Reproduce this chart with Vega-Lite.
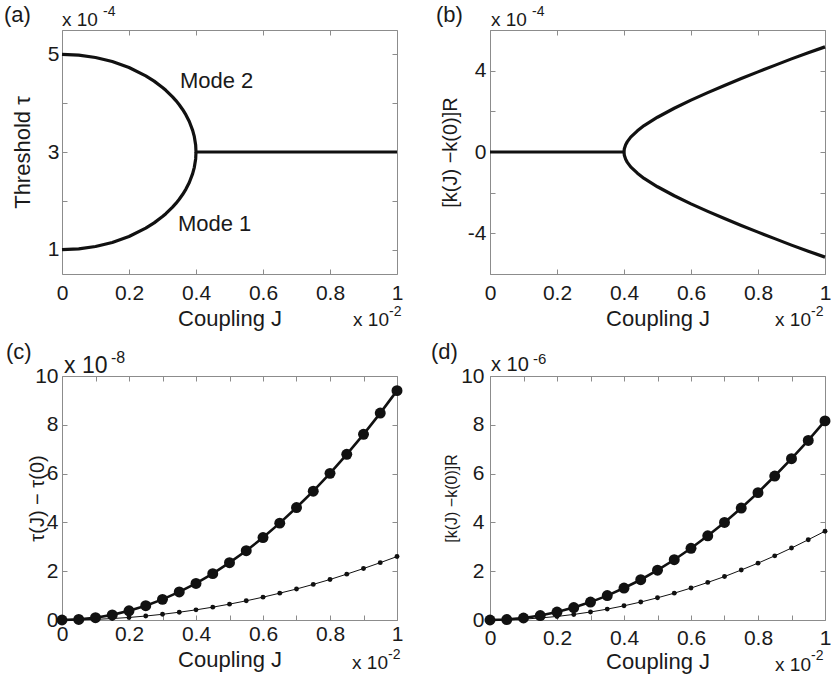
{
  "$schema": "https://vega.github.io/schema/vega-lite/v6.json",
  "background": "white",
  "padding": {"left": 3, "top": 3, "right": 5, "bottom": 5},
  "config": {
    "font": "Liberation Sans",
    "view": {"stroke": "#8c8c8c", "strokeWidth": 1},
    "axis": {"domain": false, "grid": false, "tickColor": "#8c8c8c", "tickSize": -5, "tickWidth": 1, "labelFont": "Liberation Sans", "labelFontSize": 21, "labelColor": "#1a1a1a", "labelFlush": false, "labelOverlap": false, "titleFont": "Liberation Sans", "titleFontSize": 22, "titleFontWeight": "normal", "titleColor": "#1a1a1a"},
    "text": {"font": "Liberation Sans", "color": "#1a1a1a"}
  },
  "datasets": {
    "a": [
      {"J": 0, "v": 5, "s": "u"}, {"J": 0.05, "v": 4.984, "s": "u"}, {"J": 0.1, "v": 4.937, "s": "u"}, {"J": 0.15, "v": 4.854, "s": "u"}, {"J": 0.2, "v": 4.732, "s": "u"}, {"J": 0.25, "v": 4.561, "s": "u"}, {"J": 0.275, "v": 4.452, "s": "u"}, {"J": 0.3, "v": 4.323, "s": "u"}, {"J": 0.31, "v": 4.264, "s": "u"}, {"J": 0.33, "v": 4.13, "s": "u"}, {"J": 0.34, "v": 4.054, "s": "u"}, {"J": 0.35, "v": 3.968, "s": "u"}, {"J": 0.36, "v": 3.872, "s": "u"}, {"J": 0.37, "v": 3.76, "s": "u"}, {"J": 0.38, "v": 3.625, "s": "u"}, {"J": 0.39, "v": 3.444, "s": "u"}, {"J": 0.395, "v": 3.315, "s": "u"}, {"J": 0.399, "v": 3.141, "s": "u"}, {"J": 0.4, "v": 3, "s": "u"}, {"J": 1, "v": 3, "s": "u"},
      {"J": 0, "v": 1, "s": "l"}, {"J": 0.05, "v": 1.016, "s": "l"}, {"J": 0.1, "v": 1.063, "s": "l"}, {"J": 0.15, "v": 1.146, "s": "l"}, {"J": 0.2, "v": 1.268, "s": "l"}, {"J": 0.25, "v": 1.439, "s": "l"}, {"J": 0.275, "v": 1.548, "s": "l"}, {"J": 0.3, "v": 1.677, "s": "l"}, {"J": 0.31, "v": 1.736, "s": "l"}, {"J": 0.33, "v": 1.87, "s": "l"}, {"J": 0.34, "v": 1.946, "s": "l"}, {"J": 0.35, "v": 2.032, "s": "l"}, {"J": 0.36, "v": 2.128, "s": "l"}, {"J": 0.37, "v": 2.24, "s": "l"}, {"J": 0.38, "v": 2.375, "s": "l"}, {"J": 0.39, "v": 2.556, "s": "l"}, {"J": 0.395, "v": 2.685, "s": "l"}, {"J": 0.399, "v": 2.859, "s": "l"}, {"J": 0.4, "v": 3, "s": "l"}
    ],
    "b": [
      {"J": 0, "v": 0, "s": "f"}, {"J": 0.4, "v": 0, "s": "f"},
      {"J": 0.4, "v": 0, "s": "u"}, {"J": 0.401, "v": 0.16, "s": "u"}, {"J": 0.405, "v": 0.36, "s": "u"}, {"J": 0.41, "v": 0.51, "s": "u"}, {"J": 0.42, "v": 0.73, "s": "u"}, {"J": 0.44, "v": 1.04, "s": "u"}, {"J": 0.46, "v": 1.3, "s": "u"}, {"J": 0.5, "v": 1.71, "s": "u"}, {"J": 0.55, "v": 2.15, "s": "u"}, {"J": 0.6, "v": 2.55, "s": "u"}, {"J": 0.65, "v": 2.92, "s": "u"}, {"J": 0.7, "v": 3.27, "s": "u"}, {"J": 0.75, "v": 3.61, "s": "u"}, {"J": 0.8, "v": 3.94, "s": "u"}, {"J": 0.85, "v": 4.26, "s": "u"}, {"J": 0.9, "v": 4.58, "s": "u"}, {"J": 0.95, "v": 4.88, "s": "u"}, {"J": 1, "v": 5.17, "s": "u"},
      {"J": 0.4, "v": 0, "s": "d"}, {"J": 0.401, "v": -0.16, "s": "d"}, {"J": 0.405, "v": -0.36, "s": "d"}, {"J": 0.41, "v": -0.51, "s": "d"}, {"J": 0.42, "v": -0.73, "s": "d"}, {"J": 0.44, "v": -1.04, "s": "d"}, {"J": 0.46, "v": -1.3, "s": "d"}, {"J": 0.5, "v": -1.71, "s": "d"}, {"J": 0.55, "v": -2.15, "s": "d"}, {"J": 0.6, "v": -2.55, "s": "d"}, {"J": 0.65, "v": -2.92, "s": "d"}, {"J": 0.7, "v": -3.27, "s": "d"}, {"J": 0.75, "v": -3.61, "s": "d"}, {"J": 0.8, "v": -3.94, "s": "d"}, {"J": 0.85, "v": -4.26, "s": "d"}, {"J": 0.9, "v": -4.58, "s": "d"}, {"J": 0.95, "v": -4.88, "s": "d"}, {"J": 1, "v": -5.17, "s": "d"}
    ],
    "c": [
      {"J": 0, "v": 0, "s": "small"}, {"J": 0.05, "v": 0.0065, "s": "small"}, {"J": 0.1, "v": 0.026, "s": "small"}, {"J": 0.15, "v": 0.059, "s": "small"}, {"J": 0.2, "v": 0.104, "s": "small"}, {"J": 0.25, "v": 0.163, "s": "small"}, {"J": 0.3, "v": 0.234, "s": "small"}, {"J": 0.35, "v": 0.319, "s": "small"}, {"J": 0.4, "v": 0.416, "s": "small"}, {"J": 0.45, "v": 0.527, "s": "small"}, {"J": 0.5, "v": 0.65, "s": "small"}, {"J": 0.55, "v": 0.787, "s": "small"}, {"J": 0.6, "v": 0.936, "s": "small"}, {"J": 0.65, "v": 1.1, "s": "small"}, {"J": 0.7, "v": 1.27, "s": "small"}, {"J": 0.75, "v": 1.46, "s": "small"}, {"J": 0.8, "v": 1.66, "s": "small"}, {"J": 0.85, "v": 1.88, "s": "small"}, {"J": 0.9, "v": 2.11, "s": "small"}, {"J": 0.95, "v": 2.35, "s": "small"}, {"J": 1, "v": 2.6, "s": "small"},
      {"J": 0, "v": 0, "s": "big"}, {"J": 0.05, "v": 0.024, "s": "big"}, {"J": 0.1, "v": 0.094, "s": "big"}, {"J": 0.15, "v": 0.21, "s": "big"}, {"J": 0.2, "v": 0.376, "s": "big"}, {"J": 0.25, "v": 0.587, "s": "big"}, {"J": 0.3, "v": 0.846, "s": "big"}, {"J": 0.35, "v": 1.15, "s": "big"}, {"J": 0.4, "v": 1.5, "s": "big"}, {"J": 0.45, "v": 1.9, "s": "big"}, {"J": 0.5, "v": 2.35, "s": "big"}, {"J": 0.55, "v": 2.84, "s": "big"}, {"J": 0.6, "v": 3.38, "s": "big"}, {"J": 0.65, "v": 3.97, "s": "big"}, {"J": 0.7, "v": 4.61, "s": "big"}, {"J": 0.75, "v": 5.28, "s": "big"}, {"J": 0.8, "v": 6.01, "s": "big"}, {"J": 0.85, "v": 6.79, "s": "big"}, {"J": 0.9, "v": 7.61, "s": "big"}, {"J": 0.95, "v": 8.48, "s": "big"}, {"J": 1, "v": 9.4, "s": "big"}
    ],
    "d": [
      {"J": 0, "v": 0, "s": "small"}, {"J": 0.05, "v": 0.009, "s": "small"}, {"J": 0.1, "v": 0.036, "s": "small"}, {"J": 0.15, "v": 0.082, "s": "small"}, {"J": 0.2, "v": 0.146, "s": "small"}, {"J": 0.25, "v": 0.228, "s": "small"}, {"J": 0.3, "v": 0.328, "s": "small"}, {"J": 0.35, "v": 0.446, "s": "small"}, {"J": 0.4, "v": 0.582, "s": "small"}, {"J": 0.45, "v": 0.737, "s": "small"}, {"J": 0.5, "v": 0.91, "s": "small"}, {"J": 0.55, "v": 1.1, "s": "small"}, {"J": 0.6, "v": 1.31, "s": "small"}, {"J": 0.65, "v": 1.54, "s": "small"}, {"J": 0.7, "v": 1.78, "s": "small"}, {"J": 0.75, "v": 2.05, "s": "small"}, {"J": 0.8, "v": 2.33, "s": "small"}, {"J": 0.85, "v": 2.63, "s": "small"}, {"J": 0.9, "v": 2.95, "s": "small"}, {"J": 0.95, "v": 3.29, "s": "small"}, {"J": 1, "v": 3.64, "s": "small"},
      {"J": 0, "v": 0, "s": "big"}, {"J": 0.05, "v": 0.02, "s": "big"}, {"J": 0.1, "v": 0.082, "s": "big"}, {"J": 0.15, "v": 0.184, "s": "big"}, {"J": 0.2, "v": 0.326, "s": "big"}, {"J": 0.25, "v": 0.51, "s": "big"}, {"J": 0.3, "v": 0.734, "s": "big"}, {"J": 0.35, "v": 1.0, "s": "big"}, {"J": 0.4, "v": 1.31, "s": "big"}, {"J": 0.45, "v": 1.65, "s": "big"}, {"J": 0.5, "v": 2.04, "s": "big"}, {"J": 0.55, "v": 2.47, "s": "big"}, {"J": 0.6, "v": 2.94, "s": "big"}, {"J": 0.65, "v": 3.45, "s": "big"}, {"J": 0.7, "v": 4.0, "s": "big"}, {"J": 0.75, "v": 4.59, "s": "big"}, {"J": 0.8, "v": 5.22, "s": "big"}, {"J": 0.85, "v": 5.9, "s": "big"}, {"J": 0.9, "v": 6.61, "s": "big"}, {"J": 0.95, "v": 7.36, "s": "big"}, {"J": 1, "v": 8.16, "s": "big"}
    ]
  },
  "columns": 2,
  "spacing": {"row": 102, "column": 93},
  "bounds": "flush",
  "concat": [
    {
      "width": 335, "height": 244,
      "layer": [
        {"data": {"name": "a"}, "mark": {"type": "line", "color": "#111111", "strokeWidth": 3.2, "strokeJoin": "round"},
          "encoding": {
            "x": {"field": "J", "type": "quantitative", "scale": {"domain": [0, 1], "nice": false, "zero": false}, "axis": {"values": [0, 0.2, 0.4, 0.6, 0.8, 1], "labelExpr": "datum.value == 0 ? '0' : datum.value == 1 ? '1' : format(datum.value, '.1f')", "title": "Coupling J", "labelPadding": 13, "titlePadding": 5}},
            "y": {"field": "v", "type": "quantitative", "scale": {"domain": [0.5, 5.5], "nice": false, "zero": false}, "axis": {"values": [1, 2, 3, 4, 5], "labelExpr": "datum.value == 1 || datum.value == 3 || datum.value == 5 ? datum.label : ''", "title": "Threshold τ", "labelPadding": 8, "titlePadding": 13}},
            "detail": {"field": "s", "type": "nominal"}
          }},
        {"data": {"name": "a"}, "mark": {"type": "point", "opacity": 0},
          "encoding": {
            "x": {"field": "J", "type": "quantitative", "scale": {"domain": [0, 1], "nice": false, "zero": false}, "axis": {"orient": "top", "values": [0, 0.2, 0.4, 0.6, 0.8, 1], "labels": false, "title": null}},
            "y": {"field": "v", "type": "quantitative", "scale": {"domain": [0.5, 5.5], "nice": false, "zero": false}, "axis": {"orient": "right", "values": [1, 2, 3, 4, 5], "labels": false, "title": null}}
          }},
        {"data": {"values": [{}]}, "mark": {"type": "text", "text": "(a)", "align": "left", "baseline": "alphabetic", "fontSize": 22, "dx": -58, "dy": -8},
          "encoding": {"x": {"datum": 0, "type": "quantitative", "scale": {"domain": [0, 1], "nice": false, "zero": false}, "axis": null}, "y": {"datum": 5.5, "type": "quantitative", "scale": {"domain": [0.5, 5.5], "nice": false, "zero": false}, "axis": null}}},
        {"data": {"values": [{}]}, "mark": {"type": "text", "text": "x 10", "align": "left", "baseline": "alphabetic", "fontSize": 19, "dx": 0, "dy": -4},
          "encoding": {"x": {"datum": 0, "type": "quantitative", "scale": {"domain": [0, 1], "nice": false, "zero": false}, "axis": null}, "y": {"datum": 5.5, "type": "quantitative", "scale": {"domain": [0.5, 5.5], "nice": false, "zero": false}, "axis": null}}},
        {"data": {"values": [{}]}, "mark": {"type": "text", "text": "-4", "align": "left", "baseline": "alphabetic", "fontSize": 14, "dx": 41, "dy": -14},
          "encoding": {"x": {"datum": 0, "type": "quantitative", "scale": {"domain": [0, 1], "nice": false, "zero": false}, "axis": null}, "y": {"datum": 5.5, "type": "quantitative", "scale": {"domain": [0.5, 5.5], "nice": false, "zero": false}, "axis": null}}},
        {"data": {"values": [{}]}, "mark": {"type": "text", "text": "x 10", "align": "right", "baseline": "alphabetic", "fontSize": 19, "dx": -8, "dy": 52},
          "encoding": {"x": {"datum": 1, "type": "quantitative", "scale": {"domain": [0, 1], "nice": false, "zero": false}, "axis": null}, "y": {"datum": 0.5, "type": "quantitative", "scale": {"domain": [0.5, 5.5], "nice": false, "zero": false}, "axis": null}}},
        {"data": {"values": [{}]}, "mark": {"type": "text", "text": "-2", "align": "left", "baseline": "alphabetic", "fontSize": 14, "dx": -8, "dy": 42},
          "encoding": {"x": {"datum": 1, "type": "quantitative", "scale": {"domain": [0, 1], "nice": false, "zero": false}, "axis": null}, "y": {"datum": 0.5, "type": "quantitative", "scale": {"domain": [0.5, 5.5], "nice": false, "zero": false}, "axis": null}}},
        {"data": {"values": [{}]}, "mark": {"type": "text", "text": "Mode 2", "align": "left", "baseline": "alphabetic", "fontSize": 22},
          "encoding": {"x": {"datum": 0.352, "type": "quantitative", "scale": {"domain": [0, 1], "nice": false, "zero": false}, "axis": null}, "y": {"datum": 4.31, "type": "quantitative", "scale": {"domain": [0.5, 5.5], "nice": false, "zero": false}, "axis": null}}},
        {"data": {"values": [{}]}, "mark": {"type": "text", "text": "Mode 1", "align": "left", "baseline": "alphabetic", "fontSize": 22},
          "encoding": {"x": {"datum": 0.346, "type": "quantitative", "scale": {"domain": [0, 1], "nice": false, "zero": false}, "axis": null}, "y": {"datum": 1.38, "type": "quantitative", "scale": {"domain": [0.5, 5.5], "nice": false, "zero": false}, "axis": null}}}
      ],
      "resolve": {"axis": {"x": "independent", "y": "independent"}}
    },
    {
      "width": 335, "height": 244,
      "layer": [
        {"data": {"name": "b"}, "mark": {"type": "line", "color": "#111111", "strokeWidth": 3.2, "strokeJoin": "round"},
          "encoding": {
            "x": {"field": "J", "type": "quantitative", "scale": {"domain": [0, 1], "nice": false, "zero": false}, "axis": {"values": [0, 0.2, 0.4, 0.6, 0.8, 1], "labelExpr": "datum.value == 0 ? '0' : datum.value == 1 ? '1' : format(datum.value, '.1f')", "title": "Coupling J", "labelPadding": 13, "titlePadding": 5}},
            "y": {"field": "v", "type": "quantitative", "scale": {"domain": [-6, 6], "nice": false, "zero": false}, "axis": {"values": [-6, -4, -2, 0, 2, 4, 6], "labelExpr": "datum.value == -4 ? '-4' : datum.value == 0 ? '0' : datum.value == 4 ? '4' : ''", "title": "[k(J) −k(0)]R", "titleFontSize": 20, "labelPadding": 9, "titlePadding": 7}},
            "detail": {"field": "s", "type": "nominal"}
          }},
        {"data": {"name": "b"}, "mark": {"type": "point", "opacity": 0},
          "encoding": {
            "x": {"field": "J", "type": "quantitative", "scale": {"domain": [0, 1], "nice": false, "zero": false}, "axis": {"orient": "top", "values": [0, 0.2, 0.4, 0.6, 0.8, 1], "labels": false, "title": null}},
            "y": {"field": "v", "type": "quantitative", "scale": {"domain": [-6, 6], "nice": false, "zero": false}, "axis": {"orient": "right", "values": [-6, -4, -2, 0, 2, 4, 6], "labels": false, "title": null}}
          }},
        {"data": {"values": [{}]}, "mark": {"type": "text", "text": "(b)", "align": "left", "baseline": "alphabetic", "fontSize": 22, "dx": -54, "dy": -8},
          "encoding": {"x": {"datum": 0, "type": "quantitative", "scale": {"domain": [0, 1], "nice": false, "zero": false}, "axis": null}, "y": {"datum": 6, "type": "quantitative", "scale": {"domain": [-6, 6], "nice": false, "zero": false}, "axis": null}}},
        {"data": {"values": [{}]}, "mark": {"type": "text", "text": "x 10", "align": "left", "baseline": "alphabetic", "fontSize": 19, "dx": 1, "dy": -4},
          "encoding": {"x": {"datum": 0, "type": "quantitative", "scale": {"domain": [0, 1], "nice": false, "zero": false}, "axis": null}, "y": {"datum": 6, "type": "quantitative", "scale": {"domain": [-6, 6], "nice": false, "zero": false}, "axis": null}}},
        {"data": {"values": [{}]}, "mark": {"type": "text", "text": "-4", "align": "left", "baseline": "alphabetic", "fontSize": 14, "dx": 42, "dy": -14},
          "encoding": {"x": {"datum": 0, "type": "quantitative", "scale": {"domain": [0, 1], "nice": false, "zero": false}, "axis": null}, "y": {"datum": 6, "type": "quantitative", "scale": {"domain": [-6, 6], "nice": false, "zero": false}, "axis": null}}},
        {"data": {"values": [{}]}, "mark": {"type": "text", "text": "x 10", "align": "right", "baseline": "alphabetic", "fontSize": 19, "dx": -14, "dy": 52},
          "encoding": {"x": {"datum": 1, "type": "quantitative", "scale": {"domain": [0, 1], "nice": false, "zero": false}, "axis": null}, "y": {"datum": -6, "type": "quantitative", "scale": {"domain": [-6, 6], "nice": false, "zero": false}, "axis": null}}},
        {"data": {"values": [{}]}, "mark": {"type": "text", "text": "-2", "align": "left", "baseline": "alphabetic", "fontSize": 14, "dx": -14, "dy": 42},
          "encoding": {"x": {"datum": 1, "type": "quantitative", "scale": {"domain": [0, 1], "nice": false, "zero": false}, "axis": null}, "y": {"datum": -6, "type": "quantitative", "scale": {"domain": [-6, 6], "nice": false, "zero": false}, "axis": null}}}
      ],
      "resolve": {"axis": {"x": "independent", "y": "independent"}}
    },
    {
      "width": 335, "height": 244,
      "layer": [
        {"data": {"name": "c"}, "mark": {"type": "line", "color": "#111111", "clip": false},
          "encoding": {
            "x": {"field": "J", "type": "quantitative", "scale": {"domain": [0, 1], "nice": false, "zero": false}, "axis": {"values": [0, 0.1, 0.2, 0.3, 0.4, 0.5, 0.6, 0.7, 0.8, 0.9, 1], "labelExpr": "round(datum.value * 10) % 2 == 1 ? '' : datum.value == 0 ? '0' : datum.value == 1 ? '1' : format(datum.value, '.1f')", "title": "Coupling J", "labelPadding": 8, "titlePadding": 5}},
            "y": {"field": "v", "type": "quantitative", "scale": {"domain": [0, 10], "nice": false, "zero": false}, "axis": {"values": [0, 2, 4, 6, 8, 10], "title": "τ(J) − τ(0)", "titleFontSize": 20, "labelPadding": 9, "titleX": -15}},
            "detail": {"field": "s", "type": "nominal"},
            "strokeWidth": {"field": "s", "type": "ordinal", "scale": {"domain": ["small", "big"], "range": [1, 2.6]}, "legend": null}
          }},
        {"data": {"name": "c"}, "mark": {"type": "point", "filled": true, "color": "#111111", "opacity": 1, "clip": false},
          "encoding": {
            "x": {"field": "J", "type": "quantitative", "scale": {"domain": [0, 1], "nice": false, "zero": false}, "axis": {"orient": "top", "values": [0, 0.1, 0.2, 0.3, 0.4, 0.5, 0.6, 0.7, 0.8, 0.9, 1], "labels": false, "title": null}},
            "y": {"field": "v", "type": "quantitative", "scale": {"domain": [0, 10], "nice": false, "zero": false}, "axis": {"orient": "right", "values": [0, 2, 4, 6, 8, 10], "labels": false, "title": null}},
            "size": {"field": "s", "type": "ordinal", "scale": {"domain": ["small", "big"], "range": [24, 120]}, "legend": null}
          }},
        {"data": {"values": [{}]}, "mark": {"type": "text", "text": "(c)", "align": "left", "baseline": "alphabetic", "fontSize": 22, "dx": -56, "dy": -17},
          "encoding": {"x": {"datum": 0, "type": "quantitative", "scale": {"domain": [0, 1], "nice": false, "zero": false}, "axis": null}, "y": {"datum": 10, "type": "quantitative", "scale": {"domain": [0, 10], "nice": false, "zero": false}, "axis": null}}},
        {"data": {"values": [{}]}, "mark": {"type": "text", "text": "x 10", "align": "left", "baseline": "alphabetic", "fontSize": 23, "dx": 2, "dy": -3},
          "encoding": {"x": {"datum": 0, "type": "quantitative", "scale": {"domain": [0, 1], "nice": false, "zero": false}, "axis": null}, "y": {"datum": 10, "type": "quantitative", "scale": {"domain": [0, 10], "nice": false, "zero": false}, "axis": null}}},
        {"data": {"values": [{}]}, "mark": {"type": "text", "text": "-8", "align": "left", "baseline": "alphabetic", "fontSize": 16, "dx": 49, "dy": -13},
          "encoding": {"x": {"datum": 0, "type": "quantitative", "scale": {"domain": [0, 1], "nice": false, "zero": false}, "axis": null}, "y": {"datum": 10, "type": "quantitative", "scale": {"domain": [0, 10], "nice": false, "zero": false}, "axis": null}}},
        {"data": {"values": [{}]}, "mark": {"type": "text", "text": "x 10", "align": "right", "baseline": "alphabetic", "fontSize": 19, "dx": -9, "dy": 49},
          "encoding": {"x": {"datum": 1, "type": "quantitative", "scale": {"domain": [0, 1], "nice": false, "zero": false}, "axis": null}, "y": {"datum": 0, "type": "quantitative", "scale": {"domain": [0, 10], "nice": false, "zero": false}, "axis": null}}},
        {"data": {"values": [{}]}, "mark": {"type": "text", "text": "-2", "align": "left", "baseline": "alphabetic", "fontSize": 14, "dx": -9, "dy": 39},
          "encoding": {"x": {"datum": 1, "type": "quantitative", "scale": {"domain": [0, 1], "nice": false, "zero": false}, "axis": null}, "y": {"datum": 0, "type": "quantitative", "scale": {"domain": [0, 10], "nice": false, "zero": false}, "axis": null}}}
      ],
      "resolve": {"axis": {"x": "independent", "y": "independent"}}
    },
    {
      "width": 335, "height": 244,
      "layer": [
        {"data": {"name": "d"}, "mark": {"type": "line", "color": "#111111", "clip": false},
          "encoding": {
            "x": {"field": "J", "type": "quantitative", "scale": {"domain": [0, 1], "nice": false, "zero": false}, "axis": {"values": [0, 0.1, 0.2, 0.3, 0.4, 0.5, 0.6, 0.7, 0.8, 0.9, 1], "labelExpr": "round(datum.value * 10) % 2 == 1 ? '' : datum.value == 0 ? '0' : datum.value == 1 ? '1' : format(datum.value, '.1f')", "title": "Coupling J", "labelPadding": 12, "titlePadding": 3}},
            "y": {"field": "v", "type": "quantitative", "scale": {"domain": [0, 10], "nice": false, "zero": false}, "axis": {"values": [0, 2, 4, 6, 8, 10], "title": "[k(J) −k(0)]R", "titleFontSize": 16, "labelPadding": 11, "titlePadding": 1}},
            "detail": {"field": "s", "type": "nominal"},
            "strokeWidth": {"field": "s", "type": "ordinal", "scale": {"domain": ["small", "big"], "range": [1, 2.6]}, "legend": null}
          }},
        {"data": {"name": "d"}, "mark": {"type": "point", "filled": true, "color": "#111111", "opacity": 1, "clip": false},
          "encoding": {
            "x": {"field": "J", "type": "quantitative", "scale": {"domain": [0, 1], "nice": false, "zero": false}, "axis": {"orient": "top", "values": [0, 0.1, 0.2, 0.3, 0.4, 0.5, 0.6, 0.7, 0.8, 0.9, 1], "labels": false, "title": null}},
            "y": {"field": "v", "type": "quantitative", "scale": {"domain": [0, 10], "nice": false, "zero": false}, "axis": {"orient": "right", "values": [0, 2, 4, 6, 8, 10], "labels": false, "title": null}},
            "size": {"field": "s", "type": "ordinal", "scale": {"domain": ["small", "big"], "range": [24, 120]}, "legend": null}
          }},
        {"data": {"values": [{}]}, "mark": {"type": "text", "text": "(d)", "align": "left", "baseline": "alphabetic", "fontSize": 22, "dx": -59, "dy": -17},
          "encoding": {"x": {"datum": 0, "type": "quantitative", "scale": {"domain": [0, 1], "nice": false, "zero": false}, "axis": null}, "y": {"datum": 10, "type": "quantitative", "scale": {"domain": [0, 10], "nice": false, "zero": false}, "axis": null}}},
        {"data": {"values": [{}]}, "mark": {"type": "text", "text": "x 10", "align": "left", "baseline": "alphabetic", "fontSize": 20, "dx": 1, "dy": -5},
          "encoding": {"x": {"datum": 0, "type": "quantitative", "scale": {"domain": [0, 1], "nice": false, "zero": false}, "axis": null}, "y": {"datum": 10, "type": "quantitative", "scale": {"domain": [0, 10], "nice": false, "zero": false}, "axis": null}}},
        {"data": {"values": [{}]}, "mark": {"type": "text", "text": "-6", "align": "left", "baseline": "alphabetic", "fontSize": 15, "dx": 43, "dy": -12},
          "encoding": {"x": {"datum": 0, "type": "quantitative", "scale": {"domain": [0, 1], "nice": false, "zero": false}, "axis": null}, "y": {"datum": 10, "type": "quantitative", "scale": {"domain": [0, 10], "nice": false, "zero": false}, "axis": null}}},
        {"data": {"values": [{}]}, "mark": {"type": "text", "text": "x 10", "align": "right", "baseline": "alphabetic", "fontSize": 19, "dx": -14, "dy": 51},
          "encoding": {"x": {"datum": 1, "type": "quantitative", "scale": {"domain": [0, 1], "nice": false, "zero": false}, "axis": null}, "y": {"datum": 0, "type": "quantitative", "scale": {"domain": [0, 10], "nice": false, "zero": false}, "axis": null}}},
        {"data": {"values": [{}]}, "mark": {"type": "text", "text": "-2", "align": "left", "baseline": "alphabetic", "fontSize": 14, "dx": -14, "dy": 40},
          "encoding": {"x": {"datum": 1, "type": "quantitative", "scale": {"domain": [0, 1], "nice": false, "zero": false}, "axis": null}, "y": {"datum": 0, "type": "quantitative", "scale": {"domain": [0, 10], "nice": false, "zero": false}, "axis": null}}}
      ],
      "resolve": {"axis": {"x": "independent", "y": "independent"}}
    }
  ]
}
